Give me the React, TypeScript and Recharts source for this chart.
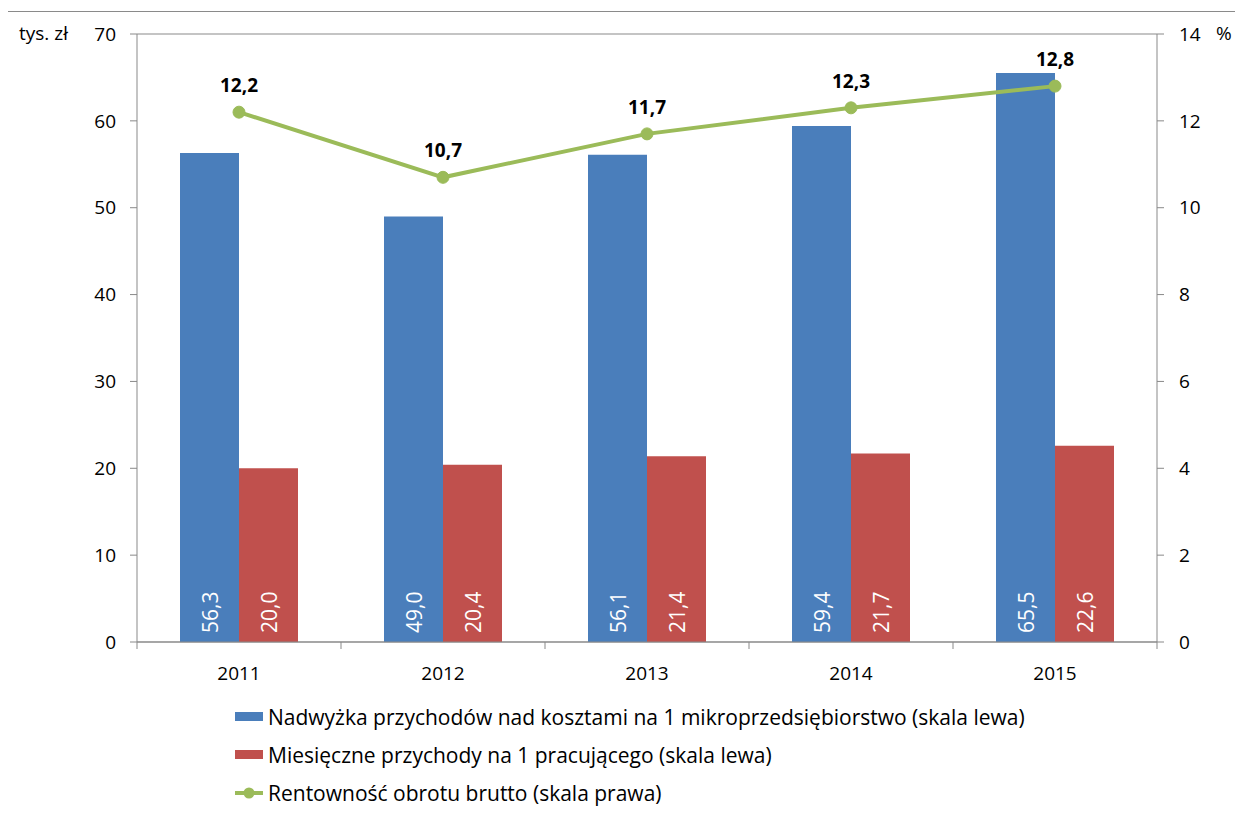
import React from "react";
import {
  ComposedChart,
  Bar,
  Line,
  XAxis,
  YAxis,
  CartesianGrid,
  LabelList,
} from "recharts";

const YEARS = ["2011", "2012", "2013", "2014", "2015"];
const SURPLUS = [56.3, 49.0, 56.1, 59.4, 65.5];
const MONTHLY = [20.0, 20.4, 21.4, 21.7, 22.6];
const PROFIT = [12.2, 10.7, 11.7, 12.3, 12.8];
const LEFT_TICKS = [0, 10, 20, 30, 40, 50, 60, 70];
const RIGHT_TICKS = [0, 2, 4, 6, 8, 10, 12, 14];

const SERIES = [
  { key: "surplus", name: "Nadwyżka przychodów nad kosztami na 1 mikroprzedsiębiorstwo (skala lewa)", color: "#4A7EBB", kind: "bar" },
  { key: "monthly", name: "Miesięczne przychody na 1 pracującego (skala lewa)", color: "#C0504D", kind: "bar" },
  { key: "profit", name: "Rentowność obrotu brutto (skala prawa)", color: "#9BBB59", kind: "line" },
];

const data = YEARS.map((year, i) => ({
  year,
  surplus: SURPLUS[i],
  monthly: MONTHLY[i],
  profit: PROFIT[i],
}));

const FONT = "'Open Sans', 'Liberation Sans', sans-serif";
const GRID = "#898989";
const fmt = (v: number) => v.toFixed(1).replace(".", ",");

function BarValue(props: any) {
  const { x, y, width, height, value } = props;
  const cx = x + width / 2;
  const base = y + height - 9;
  return (
    <text
      x={cx}
      y={base}
      transform={`rotate(-90, ${cx}, ${base})`}
      textAnchor="start"
      dominantBaseline="central"
      fill="#fff"
      fontSize={21}
      fontFamily={FONT}
    >
      {fmt(value)}
    </text>
  );
}

function LineValue(props: any) {
  const { x, y, value } = props;
  return (
    <text x={x} y={y - 20} textAnchor="middle" fill="#000" fontSize={19} fontWeight="bold" fontFamily={FONT}>
      {fmt(value)}
    </text>
  );
}

function YearTick(props: any) {
  const { x, y, payload, index, visibleTicksCount } = props;
  const half = payload.offset ?? 101.9;
  return (
    <g>
      <line x1={x - half} y1={y - 8} x2={x - half} y2={y - 1} stroke={GRID} />
      {index === visibleTicksCount - 1 && (
        <line x1={x + half} y1={y - 8} x2={x + half} y2={y - 1} stroke={GRID} />
      )}
      <text x={x} y={y + 23} textAnchor="middle" dominantBaseline="central" fill="#000" fontSize={19} fontFamily={FONT}>
        {payload.value}
      </text>
    </g>
  );
}

function Legend() {
  return (
    <div style={{ position: "absolute", left: 235, top: 698, fontFamily: FONT, fontSize: 21, color: "#000" }}>
      {SERIES.map((s) => (
        <div key={s.key} style={{ display: "flex", alignItems: "center", height: 38 }}>
          <svg width={33} height={14}>
            {s.kind === "bar" ? (
              <rect x={0} y={2} width={28} height={9} fill={s.color} />
            ) : (
              <g>
                <line x1={0} y1={7} x2={28} y2={7} stroke={s.color} strokeWidth={4} />
                <circle cx={14} cy={7} r={5.5} fill={s.color} />
              </g>
            )}
          </svg>
          <span>{s.name}</span>
        </div>
      ))}
    </div>
  );
}

export default function App() {
  return (
    <div style={{ position: "relative", width: 1243, height: 814, margin: -8, background: "#fff", overflow: "hidden" }}>
      <div
        style={{
          position: "absolute",
          left: 7,
          top: 11,
          width: 1300,
          height: 900,
          borderTop: "1.5px solid #8a8a8a",
          borderLeft: "1.5px solid #8a8a8a",
        }}
      />
      <div style={{ position: "absolute", left: 19, top: 20, fontFamily: FONT, fontSize: 19 }}>tys. zł</div>
      <div style={{ position: "absolute", left: 1216, top: 20, fontFamily: FONT, fontSize: 19 }}>%</div>
      <div style={{ position: "absolute", left: 0, top: 0 }}>
        <ComposedChart
          width={1243}
          height={814}
          data={data}
          margin={{ top: 34, right: 0, left: 0, bottom: 142 }}
          barGap={0}
          barCategoryGap="21.5%"
        >
          <CartesianGrid vertical={false} stroke={GRID} />
          <XAxis
            dataKey="year"
            axisLine={{ stroke: GRID }}
            tickLine={false}
            tick={<YearTick />}
            height={30}
            interval={0}
          />
          <YAxis
            yAxisId="left"
            domain={[0, 70]}
            ticks={LEFT_TICKS}
            width={137}
            axisLine={{ stroke: GRID }}
            tickLine={{ stroke: GRID }}
            tickSize={7}
            tickMargin={14}
            tick={{ fill: "#000", fontSize: 19, fontFamily: FONT }}
          />
          <YAxis
            yAxisId="right"
            orientation="right"
            domain={[0, 14]}
            ticks={RIGHT_TICKS}
            width={86}
            axisLine={{ stroke: GRID }}
            tickLine={{ stroke: GRID }}
            tickSize={7}
            tickMargin={15}
            tick={{ fill: "#000", fontSize: 19, fontFamily: FONT, textAnchor: "start" }}
          />
          <Bar yAxisId="left" dataKey="surplus" fill={SERIES[0].color} barSize={59} isAnimationActive={false}>
            <LabelList dataKey="surplus" content={<BarValue />} />
          </Bar>
          <Bar yAxisId="left" dataKey="monthly" fill={SERIES[1].color} barSize={59} isAnimationActive={false}>
            <LabelList dataKey="monthly" content={<BarValue />} />
          </Bar>
          <Line
            yAxisId="right"
            dataKey="profit"
            stroke={SERIES[2].color}
            strokeWidth={4}
            dot={{ r: 6, fill: SERIES[2].color, stroke: SERIES[2].color, strokeWidth: 1 }}
            isAnimationActive={false}
          >
            <LabelList dataKey="profit" content={<LineValue />} />
          </Line>
        </ComposedChart>
      </div>
      <Legend />
    </div>
  );
}
